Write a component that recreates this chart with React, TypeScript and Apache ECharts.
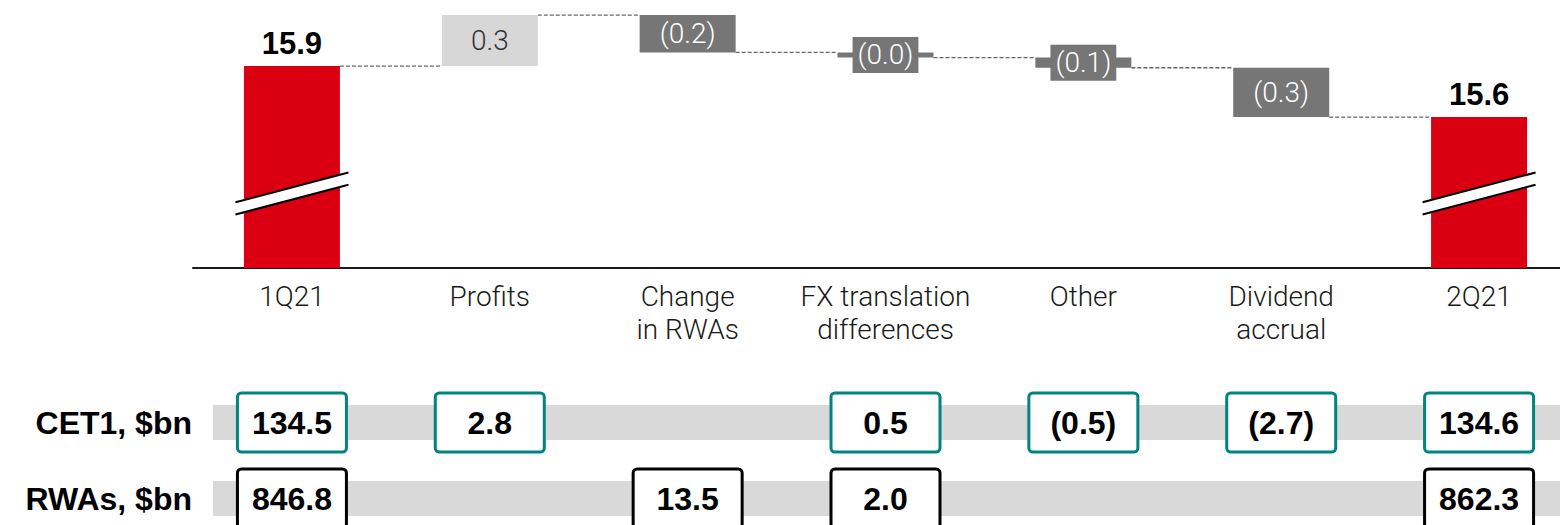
import React, { useEffect, useRef } from "react";
import * as echarts from "echarts";

// ---- data ----
const categories = [
  "1Q21",
  "Profits",
  "Change\nin RWAs",
  "FX translation\ndifferences",
  "Other",
  "Dividend\naccrual",
  "2Q21",
];
const openingRatio = 15.9;
const closingRatio = 15.6;
const movements = [0.3, -0.22, -0.03, -0.06, -0.29];
const breakLevel = 15.15;
const axisMin = 14.712;
const axisMax = 16.2885;

const rowLabels = ["CET1, $bn", "RWAs, $bn"];
const cet1Bn: (number | null)[] = [134.5, 2.8, null, 0.5, -0.5, -2.7, 134.6];
const rwasBn: (number | null)[] = [846.8, null, 13.5, 2.0, null, null, 862.3];

// ---- styles ----
const FONT = "'Liberation Sans', Arial, Helvetica, sans-serif";
const LIGHT_FONT = "Roboto, 'Liberation Sans', Arial, sans-serif";
const RED = "#db0011";
const LIGHT = "#d7d7d7";
const DARK = "#767676";
const TEAL = "#00847f";
const BAR_W = 96;

const fmt = (v: number) => (v < 0 ? `(${Math.abs(v).toFixed(1)})` : v.toFixed(1));

export default function App() {
  const ref = useRef<HTMLDivElement>(null);

  useEffect(() => {
    if (!ref.current) return;
    const chart = echarts.init(ref.current, undefined, { renderer: "svg" });

    const levels: number[] = [openingRatio];
    movements.forEach((m) => levels.push(levels[levels.length - 1] + m));

    const base: any[] = ["-"];
    const delta: any[] = ["-"];
    movements.forEach((m, i) => {
      base.push(m >= 0 ? levels[i] : levels[i + 1]);
      const pos = m >= 0;
      delta.push({
        value: Math.abs(m),
        itemStyle: { color: pos ? LIGHT : DARK },
        label: {
          show: true,
          position: "inside",
          formatter: () => fmt(m),
          color: pos ? "#333" : "#fff",
          backgroundColor: pos ? LIGHT : DARK,
          padding: [4, 5],
          fontSize: 28,
          lineHeight: 28,
          fontWeight: 300,
          fontFamily: LIGHT_FONT,
        },
      });
    });
    base.push("-");
    delta.push("-");
    const totals: any[] = categories.map((_, i) =>
      i === 0 ? openingRatio : i === categories.length - 1 ? closingRatio : "-"
    );

    const connectorData = levels.map((lv, i) => [i, lv]);
    const breakData = [
      [0, breakLevel],
      [categories.length - 1, breakLevel],
    ];

    const boxData: any[] = [];
    cet1Bn.forEach((v, i) => {
      if (v !== null) boxData.push([i, 0, fmt(v), TEAL]);
    });
    rwasBn.forEach((v, i) => {
      if (v !== null) boxData.push([i, 1, fmt(v), "#000"]);
    });

    const option: any = {
      animation: false,
      textStyle: { fontFamily: FONT },
      grid: [
        { left: 193, width: 1385, top: 0, height: 268, outerBoundsMode: "none", containLabel: false },
        { left: 193, width: 1385, top: 384.5, height: 152, outerBoundsMode: "none", containLabel: false },
      ],
      xAxis: [
        {
          type: "category",
          gridIndex: 0,
          data: categories,
          axisLine: { lineStyle: { color: "#1a1a1a", width: 2 } },
          axisTick: { show: false },
          axisLabel: {
            fontSize: 28,
            lineHeight: 33,
            color: "#1a1a1a",
            margin: 12,
            fontWeight: 300,
            fontFamily: LIGHT_FONT,
            interval: 0,
          },
        },
        {
          type: "category",
          gridIndex: 1,
          data: categories,
          show: false,
        },
      ],
      yAxis: [
        {
          type: "value",
          gridIndex: 0,
          min: axisMin,
          max: axisMax,
          show: false,
          splitLine: { show: false },
        },
        {
          type: "category",
          gridIndex: 1,
          data: rowLabels,
          inverse: true,
          axisLine: { show: false },
          axisTick: { show: false },
          splitLine: { show: false },
          axisLabel: {
            fontSize: 32,
            fontWeight: "bold",
            color: "#000",
            margin: 1,
            fontFamily: FONT,
          },
        },
      ],
      series: [
        {
          type: "custom",
          xAxisIndex: 0,
          yAxisIndex: 0,
          z: 1,
          data: connectorData,
          renderItem: (params: any, api: any) => {
            const i = api.value(0);
            const lv = api.value(1);
            if (i >= categories.length - 1) return null;
            const p1 = api.coord([i, lv]);
            const p2 = api.coord([i + 1, lv]);
            return {
              type: "line",
              shape: { x1: p1[0] + BAR_W / 2, y1: p1[1], x2: p2[0] - BAR_W / 2, y2: p1[1] },
              style: { stroke: "#666", lineWidth: 1.3, lineDash: [4, 2] },
            };
          },
        },
        {
          type: "bar",
          stack: "w",
          barWidth: BAR_W,
          z: 2,
          itemStyle: { color: "transparent" },
          data: base,
          silent: true,
        },
        {
          type: "bar",
          stack: "w",
          barWidth: BAR_W,
          z: 2,
          data: delta,
        },
        {
          type: "bar",
          stack: "w",
          barWidth: BAR_W,
          z: 2,
          itemStyle: { color: RED },
          label: {
            show: true,
            position: "top",
            distance: 7,
            fontSize: 31,
            fontWeight: "bold",
            color: "#000",
            fontFamily: FONT,
            formatter: (p: any) => Number(p.value).toFixed(1),
          },
          data: totals,
        },
        {
          type: "custom",
          xAxisIndex: 0,
          yAxisIndex: 0,
          z: 5,
          data: breakData,
          renderItem: (params: any, api: any) => {
            const c = api.coord([api.value(0), api.value(1)]);
            const hw = 56.5;
            const dy = 14.9;
            const g = 6.1;
            const cx = c[0];
            const cy = c[1];
            return {
              type: "group",
              children: [
                {
                  type: "polygon",
                  shape: {
                    points: [
                      [cx - hw, cy + dy - g],
                      [cx + hw, cy - dy - g],
                      [cx + hw, cy - dy + g],
                      [cx - hw, cy + dy + g],
                    ],
                  },
                  style: { fill: "#fff" },
                },
                {
                  type: "line",
                  shape: { x1: cx - hw, y1: cy + dy - g, x2: cx + hw, y2: cy - dy - g },
                  style: { stroke: "#000", lineWidth: 2 },
                },
                {
                  type: "line",
                  shape: { x1: cx - hw, y1: cy + dy + g, x2: cx + hw, y2: cy - dy + g },
                  style: { stroke: "#000", lineWidth: 2 },
                },
              ],
            };
          },
        },
        {
          type: "custom",
          xAxisIndex: 1,
          yAxisIndex: 1,
          z: 1,
          data: rowLabels.map((_, r) => [0, r]),
          renderItem: (params: any, api: any) => {
            const cs = params.coordSys;
            const c = api.coord([0, api.value(1)]);
            return {
              type: "rect",
              shape: { x: cs.x + 20, y: c[1] - 17.5, width: cs.width - 20, height: 35 },
              style: { fill: "#d9d9d9" },
            };
          },
        },
        {
          type: "custom",
          xAxisIndex: 1,
          yAxisIndex: 1,
          z: 3,
          data: boxData,
          renderItem: (params: any, api: any) => {
            const item = boxData[params.dataIndex];
            const c = api.coord([item[0], item[1]]);
            const w = 109;
            const h = 59;
            return {
              type: "group",
              children: [
                {
                  type: "rect",
                  shape: { x: c[0] - w / 2, y: c[1] - h / 2, width: w, height: h, r: 4 },
                  style: { fill: "#fff", stroke: item[3], lineWidth: 3 },
                },
                {
                  type: "text",
                  x: c[0],
                  y: c[1],
                  style: {
                    text: item[2],
                    align: "center",
                    verticalAlign: "middle",
                    fontSize: 32,
                    fontWeight: "bold",
                    fontFamily: FONT,
                    fill: "#000",
                  },
                },
              ],
            };
          },
        },
      ],
    };

    chart.setOption(option);
    return () => chart.dispose();
  }, []);

  return (
    <div
      ref={ref}
      style={{ position: "fixed", left: 0, top: 0, width: 1560, height: 525, background: "#fff" }}
    />
  );
}
